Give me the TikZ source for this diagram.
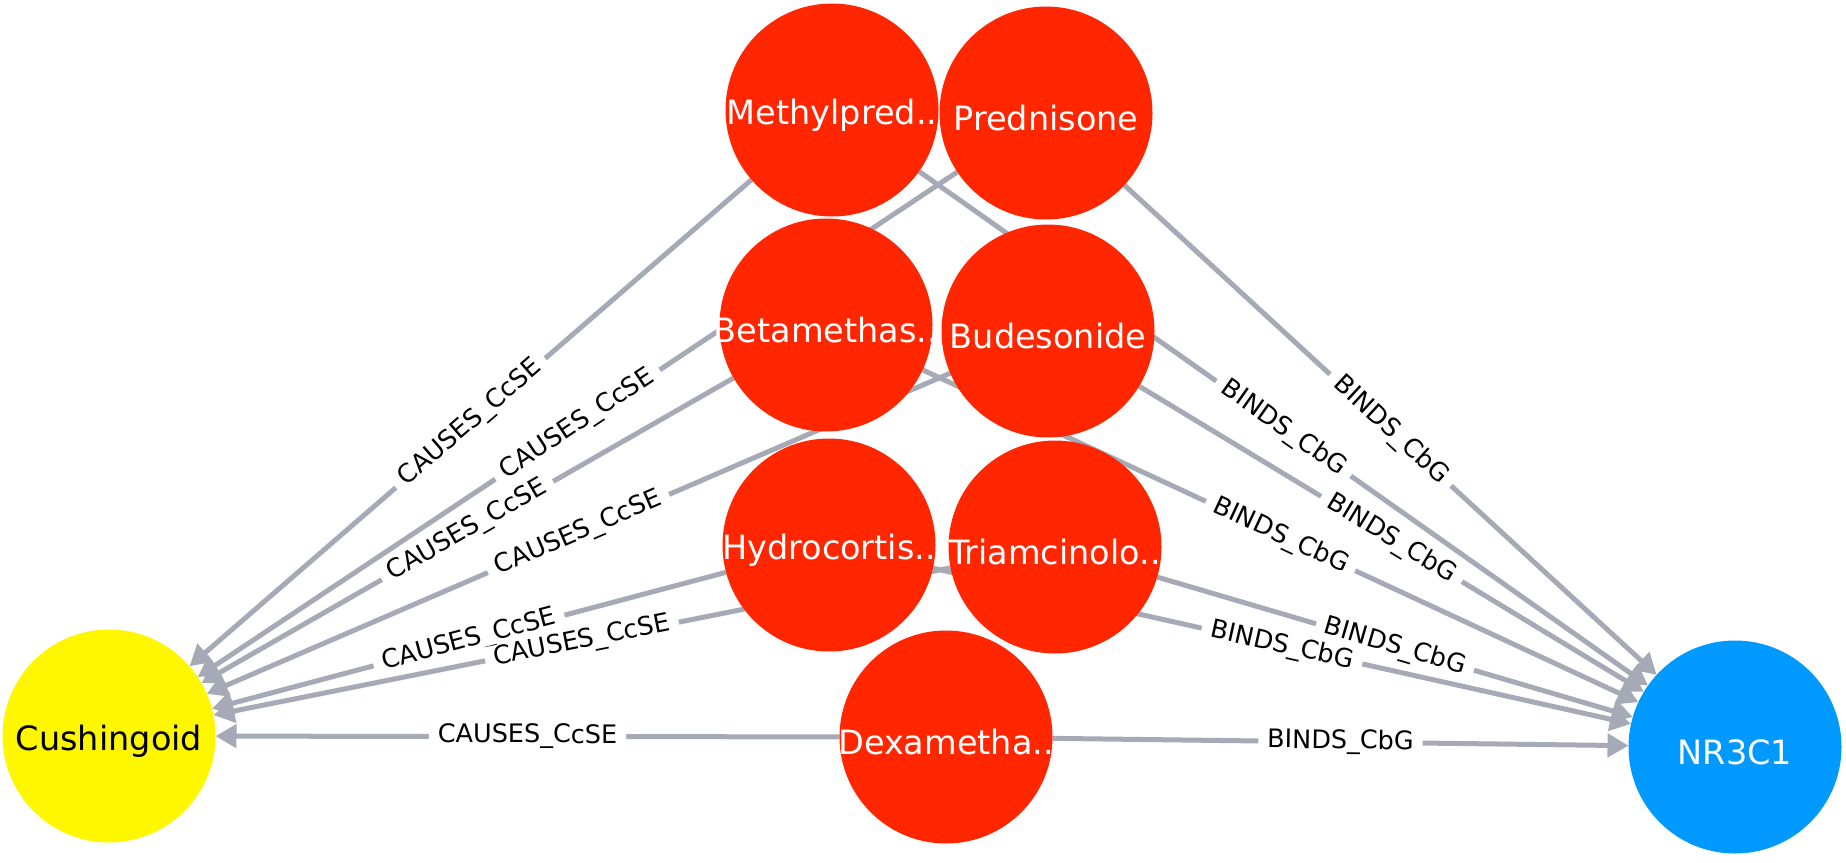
\documentclass[tikz,border=0pt]{standalone}
\usepackage{fontspec}
\setmainfont{DejaVu Sans}
\usetikzlibrary{arrows.meta}
\pgfdeclarelayer{edgelayer}
\pgfsetlayers{edgelayer,main}
\definecolor{drugred}{RGB}{255,38,0}
\definecolor{seyellow}{RGB}{255,247,0}
\definecolor{geneblue}{RGB}{0,153,255}
\definecolor{edgegray}{RGB}{166,170,182}
\tikzset{
  circ/.style={circle, minimum size=213pt, inner sep=0pt, outer sep=0pt, draw=none},
  drug/.style={circ, fill=drugred},
  sideeff/.style={circ, fill=seyellow},
  gene/.style={circ, fill=geneblue},
  whitetext/.style={text=white, font=\fontsize{33.5}{40}\selectfont, inner sep=0pt, yshift=-5pt},
  blacktext/.style={text=black, font=\fontsize{33.5}{40}\selectfont, inner sep=0pt, yshift=-5pt},
  rel/.style={draw=edgegray, line width=5pt, -{Triangle[length=21pt,width=23pt]}},
  elabel/.style={midway, sloped, fill=white, text=black, font=\fontsize{25.5}{30}\selectfont, inner xsep=9pt, inner ysep=1pt}
}
\begin{document}
\begin{tikzpicture}[x=1pt,y=-1pt]
\useasboundingbox (0,0) rectangle (1846,862);
\node[drug, label={[whitetext]center:Methylpred..}] (meth) at (832,110) {};
\node[drug, label={[whitetext]center:Prednisone}] (pred) at (1046,113) {};
\node[drug, label={[whitetext]center:Betamethas..}] (beta) at (826,325) {};
\node[drug, label={[whitetext]center:Budesonide}] (bude) at (1048,331) {};
\node[drug, label={[whitetext]center:Hydrocortis..}] (hydro) at (829,545) {};
\node[drug, label={[whitetext]center:Triamcinolo..}] (triam) at (1055,547) {};
\node[drug, label={[whitetext]center:Dexametha..}] (dexa) at (946,737) {};
\node[sideeff, label={[blacktext]center:Cushingoid}] (cush) at (109,736) {};
\node[gene, label={[whitetext]center:NR3C1}] (nr) at (1735,747) {};
\begin{pgfonlayer}{edgelayer}
\foreach \s in {meth,pred,beta,bude,hydro,triam,dexa}{
  \draw[rel] (\s) -- node[elabel]{CAUSES\_CcSE} (cush);
  \draw[rel] (\s) -- node[elabel]{BINDS\_CbG} (nr);
}
\end{pgfonlayer}
\end{tikzpicture}
\end{document}
